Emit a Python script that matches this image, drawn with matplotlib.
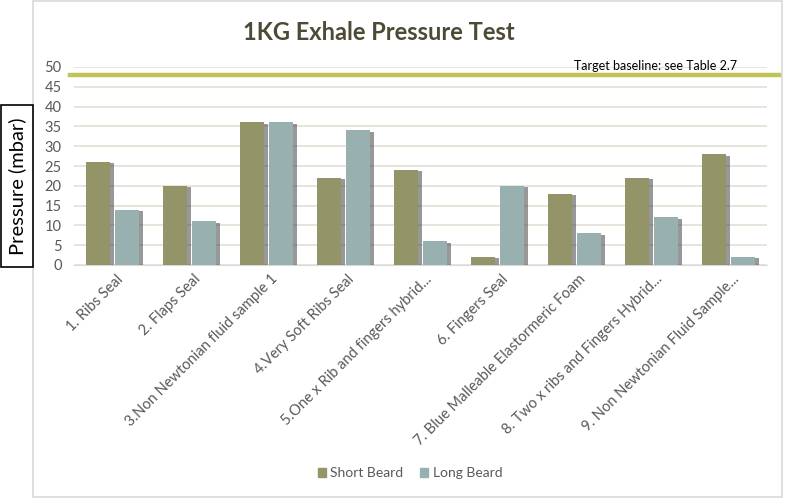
import matplotlib
matplotlib.use("Agg")
import matplotlib.pyplot as plt
import matplotlib.patheffects as pe
from matplotlib.patches import Rectangle, Patch
import numpy as np

categories = ["1. Ribs Seal", "2. Flaps Seal", "3.Non Newtonian fluid sample 1",
              "4.Very Soft Ribs Seal", "5.One x Rib and fingers hybrid...",
              "6. Fingers Seal", "7. Blue Malleable Elastormeric Foam",
              "8. Two x ribs and Fingers Hybrid...", "9. Non Newtonian Fluid Sample..."]
short_beard = [26, 20, 36, 22, 24, 2, 18, 22, 28]
long_beard = [14, 11, 36, 34, 6, 20, 8, 12, 2]
baseline = 48
yticks = list(range(0, 51, 5))

plt.rcParams['font.family'] = ['Lato', 'DejaVu Sans']

fig = plt.figure(figsize=(7.87, 4.99), dpi=100)
W, H = 787, 499
def fx(x): return x / W
def fy(y): return 1 - y / H

# outer frame
fig.patches.append(Rectangle((fx(33), fy(497)), fx(782) - fx(33), fy(1) - fy(497),
                             transform=fig.transFigure, facecolor='none',
                             edgecolor='#d9d9d9', lw=1.2, zorder=-1))

ax = fig.add_axes([fx(74), fy(265), fx(767) - fx(74), fy(67) - fy(265)])
ax.set_facecolor('none')
x = np.arange(len(categories))
w = 0.31
c_short, c_long = '#939468', '#98b0b0'
shadow = [pe.SimplePatchShadow(offset=(3, -1), shadow_rgbFace='#444444', alpha=0.55), pe.Normal()]
b1 = ax.bar(x - 0.19, short_beard, w, color=c_short, zorder=3)
b2 = ax.bar(x + 0.19, long_beard, w, color=c_long, zorder=3)
for b in list(b1) + list(b2):
    b.set_path_effects(shadow)

ax.set_xlim(-0.5, len(categories) - 0.5)
ax.set_ylim(0, 50)
ax.set_yticks(yticks)
ax.grid(axis='y', color='#e3e0d4', lw=1.2, zorder=0)
ax.set_axisbelow(True)
for s in ['top', 'right', 'left']:
    ax.spines[s].set_visible(False)
ax.spines['bottom'].set_color('#d9d9d9')
ax.tick_params(axis='y', length=0, labelsize=10.5, labelcolor='#595959', pad=9)
ax.tick_params(axis='x', length=0, pad=5)
ax.set_xticks(x + 0.05)
ax.set_xticklabels(categories, rotation=45, ha='right', rotation_mode='anchor',
                   fontsize=10.5, color='#595959')

# baseline
ax.plot([-0.006, 1.017], [baseline, baseline], transform=ax.get_yaxis_transform(),
        color='#c3c35c', lw=3.2, clip_on=False, zorder=4)
ax.text(0.957, baseline + 0.7, 'Target baseline: see Table 2.7', transform=ax.get_yaxis_transform(),
        ha='right', va='bottom', fontsize=9, color='black')

fig.text(fx(379), fy(33), '1KG Exhale Pressure Test', ha='center', va='center',
         fontsize=17, fontweight='bold', color='#4d4a35')

# y-label box
fig.patches.append(Rectangle((fx(1), fy(267)), fx(33) - fx(1), fy(105) - fy(267),
                             transform=fig.transFigure, facecolor='white',
                             edgecolor='black', lw=1.2, zorder=5))
fig.text(fx(17), fy(186), 'Pressure (mbar)', rotation=90, ha='center', va='center',
         fontsize=14.5, color='black', zorder=6)

handles = [Patch(color=c_short), Patch(color=c_long)]
fig.legend(handles=handles, labels=['Short Beard', 'Long Beard'], loc='center',
           bbox_to_anchor=(fx(410), fy(473)), ncol=2, frameon=False, fontsize=10,
           handlelength=0.6, handleheight=0.6, handletextpad=0.3, columnspacing=1.2,
           labelcolor='#595959')

fig.savefig('out.png', dpi=100)
